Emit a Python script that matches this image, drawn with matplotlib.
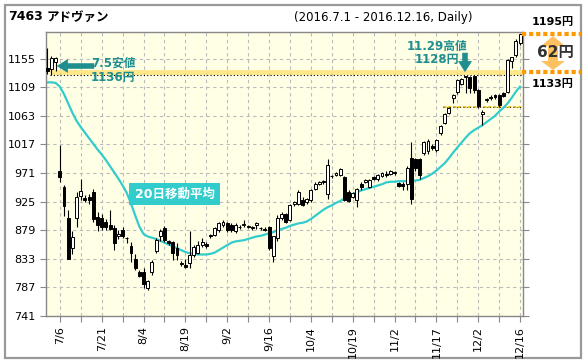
import numpy as np
import matplotlib
matplotlib.use('Agg')
import matplotlib.pyplot as plt
from matplotlib.patches import Rectangle, Polygon, FancyArrowPatch

plt.rcParams['font.family'] = ['DejaVu Sans', 'Noto Sans CJK JP']

# daily candles 2016-07-01 .. 2016-12-16 (114 trading days)
opens = [1140, 1138, 1149, 974, 949, 898, 851, 898, 934, 931,
         932, 940, 900, 899, 893, 887, 882, 869, 880, 867,
         853, 833, 811, 812, 786, 812, 845, 869, 882, 862,
         860, 850, 827, 823, 826, 839, 842, 855, 857, 871,
         871, 879, 887, 890, 887, 878, 885, 887, 885, 884,
         887, 883, 881, 884, 837, 866, 898, 905, 896, 921,
         922, 928, 925, 928, 946, 954, 957.5, 938, 966, 968,
         968, 965, 941, 933, 928, 953, 957, 949, 965, 961,
         966, 969, 970, 972, 954.5, 954, 954, 995, 993, 993,
         1003, 1006, 1015, 1008, 1035, 1052, 1068, 1092, 1101, 1114,
         1125, 1126, 1127, 1104, 1066, 1089, 1093, 1096, 1096, 1100,
         1102, 1152, 1161, 1180]
highs = [1172, 1160, 1158, 1016, 952, 912, 877, 941, 961, 935,
         938, 945, 909, 905, 897, 911, 887, 880, 884, 868,
         860, 840, 815, 818, 799, 831, 866, 881, 886, 864,
         862, 858, 829, 832, 877, 856, 862, 866, 860, 873,
         885, 892, 895, 893, 890, 890, 888, 896, 887, 886,
         893, 885, 884, 886, 870, 903, 908, 907, 922, 926,
         944, 932, 931, 946, 956, 959, 960, 993, 968, 973,
         979, 966, 943, 941, 947, 957, 961, 961, 967, 969,
         973, 975, 976, 974, 957, 957, 983, 1021, 996, 995,
         1023, 1026, 1018, 1026, 1048, 1068, 1077, 1098, 1123, 1124,
         1128, 1128, 1129, 1106, 1072, 1092, 1096, 1098, 1099, 1102,
         1155, 1158, 1186, 1195]
lows = [1130, 1129, 1136, 957, 902, 832, 840, 885, 927, 924,
        922, 893, 877, 880, 880, 879, 848, 865, 866, 858,
        828, 815, 803, 786, 783, 807, 843, 862, 860, 855,
        831, 831, 822, 818, 818, 836, 840, 852, 850, 866,
        869, 876, 884, 876, 876, 875, 881, 884, 882, 880,
        881, 880, 877, 848, 828, 862, 895, 890, 894, 918,
        920, 918, 922, 925, 944, 951, 954, 930, 963, 966,
        966, 926, 924, 931, 917, 944, 955, 947, 960, 958,
        964, 964, 968, 968, 948, 944, 944, 922, 975, 962,
        1000, 1002, 1008, 1005, 1032, 1050, 1066, 1084, 1098, 1112,
        1100, 1100, 1100, 1076, 1049, 1086, 1088, 1090, 1078, 1093,
        1100, 1140, 1158, 1177]
closes = [1136, 1156, 1156, 965, 918, 833, 868, 933, 942, 927,
          928, 897, 887, 885, 885, 881, 858, 873, 870, 866,
          842, 818, 805, 793, 797, 828, 863, 877, 863, 858,
          842, 839, 825, 820, 839, 852, 855, 860, 854, 869,
          882, 890, 893, 879, 880, 887, 884, 889, 885.5, 882,
          891, 882, 879, 850, 869, 898, 905, 893, 920, 924,
          941, 920, 929, 944, 953, 957, 956.5, 984, 966.5, 971.5,
          977, 928, 926, 939, 946, 949, 960, 959.6, 962, 968,
          971.5, 968, 974, 971, 950, 950, 979, 929, 979, 968,
          1021, 1023, 1011, 1024, 1046, 1066, 1075, 1096, 1121, 1122,
          1127, 1108, 1104, 1079, 1070, 1090, 1091, 1093, 1080, 1095,
          1153, 1157, 1183, 1195]

# 20-day moving average
ma20 = [1117, 1117, 1116, 1110, 1098, 1083, 1068, 1055, 1045, 1036,
        1027, 1018, 1009, 1001, 992, 982, 972, 962, 951, 939,
        922, 903, 885, 873, 869, 867, 865, 862, 859, 856,
        853, 850, 847, 844, 842, 841, 840, 840, 840, 841,
        843, 847, 851, 855, 859, 861, 862, 863, 865, 867,
        869, 870, 872, 874, 876, 879, 881, 883, 886, 888,
        890, 891, 893, 897, 902, 907, 912, 916, 919, 923,
        926, 930, 934, 937, 940, 943, 945, 947, 949, 951,
        953, 956, 957, 957, 958, 958, 958, 958, 959, 960,
        963, 966, 970, 975, 981, 987, 995, 1004, 1012, 1020,
        1028, 1035, 1040, 1044, 1048, 1053, 1058, 1063, 1070, 1076,
        1083, 1092, 1102, 1110]

tick_labels = ['7/6', '7/21', '8/4', '8/19', '9/2', '9/16', '10/4',
               '10/19', '11/2', '11/17', '12/2', '12/16']
y_ticks = [741, 787, 833, 879, 925, 971, 1017, 1063, 1109, 1155]

low_jul5 = 1134
high_nov29 = 1129
support = 1077

n = len(closes)
x = np.arange(n)
o = np.array(opens); c = np.array(closes)
h = np.array(highs); l = np.array(lows)

fig = plt.figure(figsize=(5.86, 3.64), dpi=100)

bg = fig.add_axes([0, 0, 1, 1])
bg.set_xlim(0, 586); bg.set_ylim(364, 0); bg.axis('off')
bg.add_patch(Rectangle((5, 5), 576, 353, fill=False, edgecolor='#999999', lw=1.6))

ax = fig.add_axes([46/586, 48/364, 477/586, 284/364])
ax.set_facecolor('#FFFFE6')
ax.set_xlim(-0.31, 113.7)
ax.set_ylim(741, 1198)

ax.set_yticks(y_ticks)
xt = np.arange(3, n, 5)
ax.set_xticks(xt)
ax.set_xticklabels([tick_labels[i // 2] if i % 2 == 0 else '' for i in range(len(xt))],
                   rotation=90)
ax.tick_params(axis='both', labelsize=8, length=4, width=0.8, color='#888888')
ax.tick_params(axis='y', right=True)
ax.grid(True, color='#BBBBBB', lw=0.8, ls=(0, (3, 3)))
ax.set_axisbelow(True)
for s in ax.spines.values():
    s.set_color('#888888')
    s.set_linewidth(1)

# reference lines
ax.hlines(low_jul5, 0.6, 113.7, color='#FFD84D', lw=3.5, alpha=0.6, zorder=1)
ax.hlines(high_nov29, 0.6, 113.7, color='black', lw=0.8, linestyles=(0, (1, 2)), zorder=1)
ax.hlines(support, 94.5, 113.7, color='#E6B800', lw=1.2, linestyles=(0, (2, 1)), zorder=1)
ax.hlines(support, 94.5, 113.7, color='black', lw=0.6, linestyles=(0, (1, 3)), zorder=1)

# moving average
ax.plot(x, ma20, color='#33CCCC', lw=1.6, zorder=2)

# candles
ax.vlines(x, l, h, color='black', lw=0.8, zorder=3)
up = c >= o
body_lo = np.minimum(o, c)
body_h = np.maximum(np.abs(c - o), 0.9)
ax.bar(x[up], body_h[up], bottom=body_lo[up], width=0.7, color='white',
       edgecolor='black', lw=0.7, zorder=4)
ax.bar(x[~up], body_h[~up], bottom=body_lo[~up], width=0.7, color='black',
       edgecolor='black', lw=0.7, zorder=4)

# annotations overlay
top = fig.add_axes([0, 0, 1, 1], zorder=5)
top.set_xlim(0, 586); top.set_ylim(364, 0); top.axis('off')
top.patch.set_alpha(0)

top.text(8, 17, '7463', fontsize=9, fontweight='bold', va='center')
top.text(47, 17, 'アドヴァン', fontsize=9, fontweight='bold', va='center')
top.text(383, 18, '(2016.7.1 - 2016.12.16, Daily)', fontsize=8.5, ha='center', va='center')

teal = '#1E8E8E'
top.add_patch(FancyArrowPatch((97, 66), (54, 66), arrowstyle='simple,head_length=0.8,head_width=1.0,tail_width=0.4',
                              mutation_scale=10, color=teal, lw=0))
top.text(91, 63, '7.5安値', fontsize=8.5, fontweight='bold', color=teal, va='center')
top.text(91, 77, '1136円', fontsize=8.5, fontweight='bold', color=teal, va='center')

top.add_patch(FancyArrowPatch((465, 50), (465, 75), arrowstyle='simple,head_length=0.8,head_width=1.0,tail_width=0.4',
                              mutation_scale=10, color=teal, lw=0))
top.text(437, 46, '11.29高値', fontsize=8.5, fontweight='bold', color=teal, ha='center', va='center')
top.text(437, 60, '1128円', fontsize=8.5, fontweight='bold', color=teal, ha='center', va='center')

top.add_patch(Rectangle((129, 183), 91, 22, color='#33CCCC', lw=0))
top.text(174.5, 194, '20日移動平均', fontsize=9, fontweight='bold', color='white', ha='center', va='center')

# price range on the right
orange = '#FF9900'
top.plot([522, 581], [33.5, 33.5], color=orange, lw=3, ls=(0, (1, 0.7)))
top.plot([522, 581], [72, 72], color=orange, lw=3, ls=(0, (1, 0.7)))
top.add_patch(Polygon([(553, 36), (541, 46), (548, 46), (548, 61), (541, 61), (553, 70),
                       (565, 61), (558, 61), (558, 46), (565, 46)],
                      closed=True, facecolor='#FFC060', edgecolor='none'))
top.text(553, 22, '1195円', fontsize=8, fontweight='bold', ha='center', va='center')
top.text(553, 84, '1133円', fontsize=8, fontweight='bold', ha='center', va='center')
top.text(555, 53, '62円', fontsize=11, fontweight='bold', color='#333333', ha='center', va='center')

fig.savefig('out.png', dpi=100)
